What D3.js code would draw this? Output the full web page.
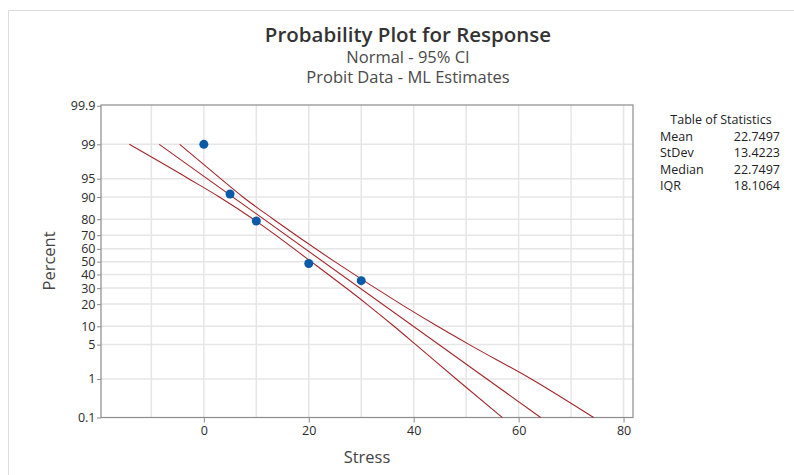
<!DOCTYPE html>
<html>
<head>
<meta charset="utf-8">
<script src="https://cdn.jsdelivr.net/npm/d3@7"></script>
<style>
  body { margin: 0; background: #fff; }
  text { font-family: "Open Sans", "Noto Sans", sans-serif; }
</style>
</head>
<body>
<script>
//----------------------------------------- data -------------------------------------------

var stress = [0, 5, 10, 20, 30];
var percent = [99, 91, 79, 48.5, 35.3];

// fitted line end points (stress, percent)
var fitStress = [-8.5, 64.2];
var fitPercent = [99, 0.1];

// 95% CI bands
var bandPercent = [99, 95, 90, 80, 50, 20, 10, 5, 1, 0.1];
var lowerBand = [-14.2, -2.9, 2.95, 9.45, 20.45, 31.05, 36.25, 40.4, 48.1, 56.9];
var upperBand = [-4.6, 3.2, 7.45, 13.25, 24.95, 37.55, 44.55, 50.6, 62.4, 74.3];

var xTicks = [0, 20, 40, 60, 80];
var xGrid = [-10, 0, 10, 20, 30, 40, 50, 60, 70, 80];
var yTicks = [0.1, 1, 5, 10, 20, 30, 40, 50, 60, 70, 80, 90, 95, 99, 99.9];
var yTickLabels = ["0.1", "1", "5", "10", "20", "30", "40", "50", "60", "70", "80", "90", "95", "99", "99.9"];

var statNames = ["Mean", "StDev", "Median", "IQR"];
var statValues = ["22.7497", "13.4223", "22.7497", "18.1064"];

//----------------------------------------- svg --------------------------------------------

var svg = d3.select("body")
    .append("svg")
    .attr("width", 794)
    .attr("height", 475);

var plot = { left: 101, right: 633, top: 105, bottom: 417.5 };

// inverse normal cdf (Acklam) for the probit axis
function probit(p) {
  var a = [-3.969683028665376e+01, 2.209460984245205e+02, -2.759285104469687e+02, 1.383577518672690e+02, -3.066479806614716e+01, 2.506628277459239e+00];
  var b = [-5.447609879822406e+01, 1.615858368580409e+02, -1.556989798598866e+02, 6.680131188771972e+01, -1.328068155288572e+01];
  var c = [-7.784894002430293e-03, -3.223964580411365e-01, -2.400758277161838e+00, -2.549732539343734e+00, 4.374664141464968e+00, 2.938163982698783e+00];
  var d = [7.784695709041462e-03, 3.224671290700398e-01, 2.445134137142996e+00, 3.754408661907416e+00];
  var pl = 0.02425, q, r;
  if (p < pl) {
    q = Math.sqrt(-2 * Math.log(p));
    return (((((c[0]*q+c[1])*q+c[2])*q+c[3])*q+c[4])*q+c[5]) / ((((d[0]*q+d[1])*q+d[2])*q+d[3])*q+1);
  }
  if (p > 1 - pl) {
    q = Math.sqrt(-2 * Math.log(1 - p));
    return -(((((c[0]*q+c[1])*q+c[2])*q+c[3])*q+c[4])*q+c[5]) / ((((d[0]*q+d[1])*q+d[2])*q+d[3])*q+1);
  }
  q = p - 0.5; r = q * q;
  return (((((a[0]*r+a[1])*r+a[2])*r+a[3])*r+a[4])*r+a[5])*q / (((((b[0]*r+b[1])*r+b[2])*r+b[3])*r+b[4])*r+1);
}

var x = d3.scaleLinear().domain([-19.6, 81.8]).range([plot.left, plot.right]);
var yz = d3.scaleLinear().domain([probit(0.001), probit(0.999)]).range([plot.bottom, 105.8]);
function y(p) { return yz(probit(p / 100)); }

//----------------------------------------- frame -------------------------------------------

svg.append("path")
    .attr("d", "M8.5,475 V10.5 H794")
    .attr("fill", "none")
    .attr("stroke", "#dcdcdc");

//----------------------------------------- grid --------------------------------------------

svg.append("g")
    .selectAll("line")
    .data(xGrid)
    .enter().append("line")
    .attr("x1", function(d) { return x(d); })
    .attr("x2", function(d) { return x(d); })
    .attr("y1", plot.top)
    .attr("y2", plot.bottom)
    .attr("stroke", "#e6e6e6")
    .attr("stroke-width", 1.5);

svg.append("g")
    .selectAll("line")
    .data(yTicks.slice(1, -1))
    .enter().append("line")
    .attr("x1", plot.left)
    .attr("x2", plot.right)
    .attr("y1", function(d) { return y(d); })
    .attr("y2", function(d) { return y(d); })
    .attr("stroke", "#e6e6e6")
    .attr("stroke-width", 1.5);

svg.append("rect")
    .attr("x", plot.left)
    .attr("y", plot.top)
    .attr("width", plot.right - plot.left)
    .attr("height", plot.bottom - plot.top)
    .attr("fill", "none")
    .attr("stroke", "#8c8c8c")
    .attr("stroke-width", 1.2);

//----------------------------------------- axes --------------------------------------------

var xAxis = svg.append("g")
    .attr("transform", "translate(0," + plot.bottom + ")")
    .call(d3.axisBottom(x).tickValues(xTicks).tickSize(5).tickSizeOuter(0).tickPadding(4));

var yAxis = svg.append("g")
    .attr("transform", "translate(" + plot.left + ",0)")
    .call(d3.axisLeft(yz)
      .tickValues(yTicks.map(function(d) { return probit(d / 100); }))
      .tickFormat(function(d, i) { return yTickLabels[i]; })
      .tickSize(4).tickSizeOuter(0).tickPadding(1.5));

[xAxis, yAxis].forEach(function(a) {
  a.select(".domain").remove();
  a.selectAll(".tick line").attr("stroke", "#8c8c8c");
  a.selectAll(".tick text")
    .attr("fill", "#2a2a2a")
    .style("font-size", "12.5px")
    .style("font-family", "'Open Sans', sans-serif");
});

//----------------------------------------- lines --------------------------------------------

var line = d3.line()
    .x(function(d) { return x(d[0]); })
    .y(function(d) { return y(d[1]); })
    .curve(d3.curveMonotoneX);

[lowerBand, upperBand].forEach(function(band) {
  svg.append("path")
      .datum(band.map(function(s, i) { return [s, bandPercent[i]]; }))
      .attr("d", line)
      .attr("fill", "none")
      .attr("stroke", "#a3262b")
      .attr("stroke-width", 1.1);
});

svg.append("path")
    .datum(fitStress.map(function(s, i) { return [s, fitPercent[i]]; }))
    .attr("d", d3.line().x(function(d) { return x(d[0]); }).y(function(d) { return y(d[1]); }))
    .attr("fill", "none")
    .attr("stroke", "#a3262b")
    .attr("stroke-width", 1.1);

//----------------------------------------- points --------------------------------------------

svg.append("g")
    .selectAll("circle")
    .data(stress)
    .enter().append("circle")
    .attr("cx", function(d) { return x(d); })
    .attr("cy", function(d, i) { return y(percent[i]); })
    .attr("r", 4.5)
    .attr("fill", "#0a5aa8");

//----------------------------------------- titles --------------------------------------------

svg.append("text")
    .attr("x", 408).attr("y", 42)
    .attr("text-anchor", "middle")
    .style("font-size", "20.5px").style("font-weight", "600")
    .attr("fill", "#333")
    .text("Probability Plot for Response");

svg.append("text")
    .attr("x", 408).attr("y", 63)
    .attr("text-anchor", "middle")
    .style("font-size", "16.5px")
    .attr("fill", "#4a4a4a")
    .text("Normal - 95% CI");

svg.append("text")
    .attr("x", 408).attr("y", 83)
    .attr("text-anchor", "middle")
    .style("font-size", "16.5px")
    .attr("fill", "#4a4a4a")
    .text("Probit Data - ML Estimates");

svg.append("text")
    .attr("x", 367).attr("y", 463)
    .attr("text-anchor", "middle")
    .style("font-size", "16.5px")
    .attr("fill", "#444")
    .text("Stress");

svg.append("text")
    .attr("transform", "translate(55,261) rotate(-90)")
    .attr("text-anchor", "middle")
    .style("font-size", "16.5px")
    .attr("fill", "#444")
    .text("Percent");

//----------------------------------------- table --------------------------------------------

svg.append("text")
    .attr("x", 721).attr("y", 124)
    .attr("text-anchor", "middle")
    .style("font-size", "12.5px")
    .attr("fill", "#222")
    .text("Table of Statistics");

var rows = svg.append("g")
    .selectAll("g")
    .data(statNames)
    .enter().append("g")
    .attr("transform", function(d, i) { return "translate(0," + (140.5 + i * 16.5) + ")"; });

rows.append("text")
    .attr("x", 660)
    .style("font-size", "12.5px")
    .attr("fill", "#222")
    .text(function(d) { return d; });

rows.append("text")
    .attr("x", 780)
    .attr("text-anchor", "end")
    .style("font-size", "12.5px")
    .attr("fill", "#222")
    .text(function(d, i) { return statValues[i]; });
</script>
</body>
</html>
